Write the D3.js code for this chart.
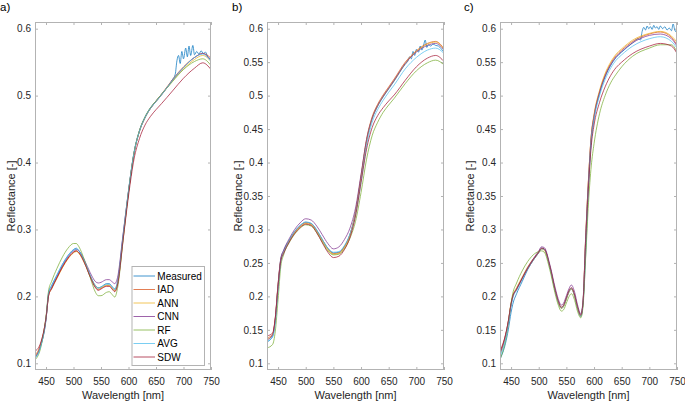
<!DOCTYPE html>
<html><head><meta charset="utf-8">
<script src="https://cdn.jsdelivr.net/npm/d3@7"></script>
<style>
html,body{margin:0;padding:0;background:#fff;}
svg{display:block;font-family:"Liberation Sans",Arial,sans-serif;}
</style></head>
<body>
<svg id="chart" width="685" height="402"></svg>
<script>
// ---------------- DATA ----------------
const seriesNames = ["Measured","IAD","ANN","CNN","RF","AVG","SDW"];
const seriesColors = ["#0072BD","#D95319","#EDB120","#7E2F8E","#77AC30","#4DBEEE","#A2142F"];
const panelLabels = ["a)","b)","c)"];
const xTicks = [450,500,550,600,650,700,750];
const yTicksA = [0.1,0.2,0.3,0.4,0.5,0.6];
const yTicksBC = [0.1,0.15,0.2,0.25,0.3,0.35,0.4,0.45,0.5,0.55,0.6];

// Panel a
const wlA = [430,440,450,455,460,470,480,490,500,505,510,520,530,540,545,550,560,565,570,575,580,590,600,610,620,630,640,650,660,680,700,720,735,750];
const wlAMeas = [430,440,450,455,460,470,480,490,500,505,510,520,530,540,545,550,560,565,570,575,580,590,600,610,620,630,640,650,660,680,685,688,691,694,697,700,704,707,710,713,717,720,724,728,732,736,740,744,750];
const measA = [0.108,0.125,0.165,0.207,0.216,0.232,0.248,0.261,0.270,0.272,0.268,0.252,0.232,0.216,0.213,0.214,0.219,0.219,0.215,0.211,0.222,0.290,0.358,0.415,0.448,0.468,0.482,0.492,0.502,0.524,0.532,0.552,0.560,0.548,0.566,0.555,0.571,0.558,0.574,0.560,0.575,0.561,0.566,0.562,0.567,0.563,0.565,0.558,0.553];
const iadA = [0.112,0.128,0.168,0.203,0.212,0.228,0.244,0.257,0.266,0.268,0.265,0.250,0.230,0.213,0.210,0.212,0.216,0.216,0.212,0.208,0.218,0.285,0.355,0.413,0.447,0.467,0.481,0.492,0.502,0.524,0.543,0.557,0.563,0.556];
const annA = [0.110,0.127,0.167,0.202,0.211,0.227,0.243,0.256,0.265,0.267,0.264,0.250,0.231,0.215,0.212,0.213,0.217,0.217,0.213,0.209,0.219,0.287,0.356,0.414,0.447,0.467,0.481,0.491,0.501,0.522,0.540,0.554,0.560,0.551];
const cnnA = [0.109,0.126,0.166,0.204,0.213,0.230,0.246,0.259,0.268,0.270,0.268,0.254,0.236,0.222,0.220,0.221,0.225,0.225,0.222,0.219,0.228,0.292,0.357,0.414,0.447,0.467,0.481,0.491,0.501,0.523,0.542,0.557,0.563,0.553];
const rfA  = [0.105,0.122,0.170,0.210,0.222,0.242,0.259,0.272,0.279,0.279,0.274,0.254,0.229,0.206,0.201,0.201,0.206,0.207,0.203,0.199,0.212,0.283,0.356,0.414,0.448,0.468,0.482,0.492,0.502,0.521,0.539,0.551,0.555,0.545];
const avgA = [0.107,0.124,0.167,0.205,0.215,0.232,0.248,0.261,0.269,0.271,0.268,0.252,0.232,0.215,0.212,0.214,0.218,0.218,0.214,0.210,0.220,0.288,0.357,0.414,0.447,0.467,0.481,0.491,0.501,0.523,0.542,0.557,0.562,0.551];
const sdwA = [0.118,0.130,0.168,0.202,0.211,0.228,0.244,0.257,0.266,0.268,0.265,0.250,0.230,0.213,0.209,0.211,0.215,0.215,0.211,0.207,0.217,0.283,0.350,0.405,0.436,0.456,0.469,0.479,0.488,0.507,0.526,0.541,0.549,0.539];

// Panel b
const wlB = [430,440,445,450,455,460,470,480,490,500,510,520,530,540,550,560,570,580,590,600,610,620,630,640,650,660,680,700,720,735,750];
const wlBMeas = [430,440,445,450,455,460,470,480,490,500,510,520,530,540,550,560,570,580,590,600,610,620,630,640,650,660,680,685,688,691,694,697,700,704,707,710,713,716,719,722,726,730,735,740,745,750];
const measB = [0.132,0.140,0.165,0.215,0.256,0.268,0.284,0.297,0.306,0.311,0.309,0.299,0.285,0.272,0.265,0.266,0.275,0.293,0.325,0.378,0.432,0.465,0.484,0.498,0.510,0.522,0.547,0.552,0.558,0.555,0.566,0.560,0.569,0.565,0.574,0.568,0.575,0.583,0.572,0.576,0.574,0.577,0.575,0.574,0.570,0.565];
const iadB = [0.138,0.143,0.168,0.218,0.255,0.266,0.283,0.296,0.305,0.310,0.308,0.298,0.284,0.271,0.264,0.265,0.274,0.292,0.326,0.380,0.435,0.468,0.487,0.501,0.513,0.525,0.550,0.567,0.578,0.581,0.570];
const annB = [0.136,0.142,0.166,0.216,0.254,0.265,0.282,0.295,0.304,0.309,0.307,0.297,0.283,0.270,0.263,0.264,0.273,0.291,0.324,0.377,0.432,0.466,0.485,0.499,0.511,0.523,0.548,0.566,0.577,0.580,0.569];
const cnnB = [0.135,0.142,0.167,0.218,0.257,0.269,0.286,0.300,0.310,0.316,0.314,0.305,0.292,0.279,0.271,0.274,0.285,0.302,0.332,0.382,0.434,0.466,0.485,0.499,0.511,0.523,0.548,0.565,0.575,0.578,0.568];
const rfB  = [0.123,0.128,0.148,0.195,0.245,0.262,0.280,0.293,0.302,0.307,0.305,0.295,0.281,0.268,0.262,0.263,0.271,0.287,0.312,0.355,0.405,0.440,0.460,0.475,0.486,0.496,0.518,0.537,0.549,0.553,0.546];
const avgB = [0.133,0.139,0.160,0.210,0.252,0.265,0.283,0.297,0.306,0.311,0.309,0.299,0.285,0.272,0.266,0.267,0.276,0.293,0.322,0.370,0.425,0.460,0.479,0.493,0.505,0.516,0.540,0.557,0.568,0.571,0.563];
const sdwB = [0.141,0.145,0.168,0.215,0.253,0.264,0.281,0.294,0.303,0.308,0.306,0.295,0.280,0.266,0.258,0.260,0.270,0.288,0.320,0.370,0.420,0.452,0.470,0.482,0.492,0.501,0.523,0.543,0.556,0.560,0.551];

// Panel c
const wlC = [430,440,445,450,453,460,470,480,490,500,505,510,520,530,535,541,545,550,555,559,565,570,576,580,585,590,595,600,610,620,630,640,650,670,700,720,740,750];
const wlCMeas = [430,440,445,450,453,460,470,480,490,500,505,510,520,530,535,541,545,550,555,559,565,570,576,580,585,590,595,600,610,620,630,640,650,670,680,684,687,690,693,696,699,702,705,708,711,714,717,720,724,728,732,736,740,743,746,750];
const measC = [0.106,0.130,0.150,0.176,0.188,0.204,0.222,0.240,0.254,0.266,0.272,0.271,0.244,0.207,0.192,0.182,0.185,0.196,0.207,0.211,0.200,0.183,0.170,0.188,0.265,0.365,0.432,0.466,0.503,0.528,0.545,0.557,0.565,0.579,0.585,0.583,0.596,0.602,0.598,0.604,0.600,0.603,0.599,0.605,0.601,0.603,0.599,0.604,0.600,0.603,0.598,0.601,0.597,0.607,0.598,0.594];
const iadC = [0.115,0.142,0.162,0.188,0.199,0.210,0.226,0.241,0.254,0.265,0.271,0.270,0.245,0.208,0.193,0.183,0.186,0.197,0.208,0.212,0.201,0.184,0.171,0.190,0.290,0.375,0.440,0.470,0.506,0.531,0.548,0.560,0.568,0.581,0.592,0.595,0.587,0.576];
const annC = [0.113,0.141,0.163,0.190,0.201,0.213,0.229,0.244,0.256,0.266,0.271,0.269,0.244,0.207,0.192,0.182,0.185,0.196,0.207,0.211,0.200,0.183,0.171,0.190,0.290,0.376,0.441,0.472,0.508,0.533,0.550,0.562,0.570,0.583,0.593,0.596,0.589,0.580];
const cnnC = [0.114,0.141,0.162,0.188,0.199,0.211,0.227,0.243,0.256,0.268,0.274,0.273,0.248,0.212,0.197,0.187,0.190,0.201,0.212,0.217,0.206,0.188,0.174,0.193,0.290,0.374,0.439,0.469,0.505,0.529,0.546,0.558,0.566,0.579,0.590,0.592,0.585,0.574];
const rfC  = [0.106,0.134,0.158,0.190,0.204,0.220,0.238,0.252,0.262,0.267,0.268,0.266,0.240,0.203,0.188,0.178,0.180,0.190,0.200,0.204,0.194,0.178,0.168,0.184,0.260,0.340,0.395,0.428,0.473,0.500,0.519,0.532,0.543,0.559,0.571,0.576,0.576,0.565];
const avgC = [0.110,0.137,0.159,0.185,0.197,0.209,0.225,0.241,0.254,0.265,0.271,0.270,0.245,0.208,0.193,0.183,0.186,0.197,0.208,0.212,0.201,0.184,0.171,0.189,0.283,0.368,0.433,0.464,0.500,0.524,0.541,0.553,0.561,0.574,0.585,0.588,0.581,0.571];
const sdwC = [0.118,0.143,0.163,0.189,0.200,0.211,0.227,0.242,0.255,0.266,0.272,0.271,0.246,0.209,0.194,0.184,0.187,0.198,0.209,0.213,0.202,0.185,0.172,0.190,0.285,0.365,0.425,0.456,0.490,0.513,0.530,0.542,0.550,0.563,0.574,0.578,0.574,0.563];

// ---------------- LAYOUT ----------------
const panels = [
  {x0:35,  x1:211, yTicks:yTicksA, label:panelLabels[0], lx:0,   ylx:15,
   series:[[wlAMeas,measA],[wlA,iadA],[wlA,annA],[wlA,cnnA],[wlA,rfA],[wlA,avgA],[wlA,sdwA]], legend:true},
  {x0:267, x1:444, yTicks:yTicksBC, label:panelLabels[1], lx:232, ylx:241.5,
   series:[[wlBMeas,measB],[wlB,iadB],[wlB,annB],[wlB,cnnB],[wlB,rfB],[wlB,avgB],[wlB,sdwB]]},
  {x0:500, x1:677, yTicks:yTicksBC, label:panelLabels[2], lx:464, ylx:473.5,
   series:[[wlCMeas,measC],[wlC,iadC],[wlC,annC],[wlC,cnnC],[wlC,rfC],[wlC,avgC],[wlC,sdwC]]}
];
const yTop = 22, yBot = 370;
const axisCol = "#b3b3b3", textCol = "#262626";

const svg = d3.select("#chart");

panels.forEach((p, pi) => {
  const x = d3.scaleLinear().domain([430, 750]).range([p.x0, p.x1]);
  const y = d3.scaleLinear().domain([0.09, 0.61]).range([yBot, yTop]);
  const g = svg.append("g");

  const cid = "clip" + pi;
  svg.append("clipPath").attr("id", cid).append("rect")
    .attr("x", p.x0).attr("y", yTop).attr("width", p.x1 - p.x0).attr("height", yBot - yTop);

  const fmt = d3.format("~g");
  const axB = g.append("g").attr("transform", `translate(0,${yBot})`)
    .call(d3.axisBottom(x).tickValues(xTicks).tickSizeInner(-3).tickSizeOuter(0).tickPadding(7.5));
  const axT = g.append("g").attr("transform", `translate(0,${yTop})`)
    .call(d3.axisTop(x).tickValues(xTicks).tickSizeInner(-3).tickSizeOuter(0).tickFormat(""));
  const axL = g.append("g").attr("transform", `translate(${p.x0},0)`)
    .call(d3.axisLeft(y).tickValues(p.yTicks).tickSizeInner(-3).tickSizeOuter(0).tickPadding(4).tickFormat(fmt));
  const axR = g.append("g").attr("transform", `translate(${p.x1},0)`)
    .call(d3.axisRight(y).tickValues(p.yTicks).tickSizeInner(-3).tickSizeOuter(0).tickFormat(""));
  [axB, axT, axL, axR].forEach(a => {
    a.select(".domain").remove();
    a.selectAll("line").attr("stroke", axisCol);
    a.selectAll("text").attr("fill", textCol).style("font-size", "10px")
      .style("font-family", '"Liberation Sans", Arial, sans-serif');
  });

  const lg = g.append("g").attr("clip-path", `url(#${cid})`);
  p.series.forEach((s, si) => {
    const pts = s[0].map((w, i) => [w, s[1][i]]);
    lg.append("path")
      .attr("d", d3.line().x(d => x(d[0])).y(d => y(d[1])).curve(d3.curveMonotoneX)(pts))
      .attr("fill", "none").attr("stroke", seriesColors[si]).attr("stroke-width", 0.8)
      .attr("stroke-opacity", 0.9);
  });

  g.append("rect").attr("x", p.x0 + 0.5).attr("y", yTop + 0.5)
    .attr("width", p.x1 - p.x0 - 1).attr("height", yBot - yTop - 1)
    .attr("fill", "none").attr("stroke", axisCol).attr("stroke-width", 1);

  g.append("text").attr("x", (p.x0 + p.x1) / 2).attr("y", 398.5).attr("text-anchor", "middle")
    .attr("fill", textCol).style("font-size", "11px").text("Wavelength [nm]");
  g.append("text").attr("transform", `translate(${p.ylx},${(yTop + yBot) / 2}) rotate(-90)`)
    .attr("text-anchor", "middle").attr("fill", textCol).style("font-size", "11px").text("Reflectance [-]");
  g.append("text").attr("x", p.lx).attr("y", 11).attr("fill", "#000").style("font-size", "11.5px").text(p.label);

  if (p.legend) {
    const lgX = 131.5, lgY = 266, lgW = 72.5, lgH = 99;
    const leg = g.append("g");
    leg.append("rect").attr("x", lgX + 0.5).attr("y", lgY + 0.5).attr("width", lgW).attr("height", lgH)
      .attr("fill", "#fff").attr("stroke", axisCol);
    seriesNames.forEach((n, i) => {
      const yy = 276 + i * 13.5;
      leg.append("line").attr("x1", 133.5).attr("x2", 155).attr("y1", yy).attr("y2", yy)
        .attr("stroke", seriesColors[i]).attr("stroke-width", 1).attr("stroke-opacity", 0.75);
      leg.append("text").attr("x", 157.3).attr("y", yy + 3.6).attr("fill", "#000")
        .style("font-size", "10px").text(n);
    });
  }
});
</script>
</body></html>
